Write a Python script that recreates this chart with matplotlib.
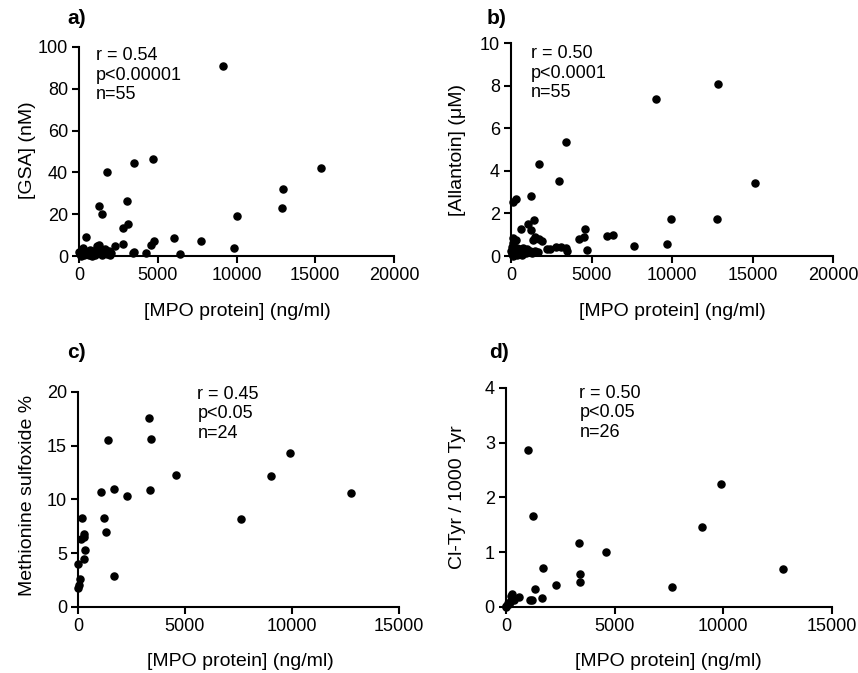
import matplotlib
matplotlib.use("Agg")
import matplotlib.pyplot as plt

plt.rcParams['font.family'] = ['Liberation Sans', 'DejaVu Sans']

# panel a: GSA vs MPO protein
gsa_x = [9150, 4700, 3490, 1800, 15360, 12970, 12900, 10060, 9840, 3040,
         1280, 1480, 3100, 2780, 450, 6030, 7770, 4790, 4600, 2780,
         2310, 1130, 1280, 3490, 3450, 4280, 6440, 1930, 2050, 1560,
         1350, 64, 171, 278, 385, 492, 600, 813, 706, 920,
         1027, 1134, 1350, 1455, 1670, 1776, 1990, 107, 235, 321,
         450, 663, 1240, 21, 877]
gsa_y = [91, 46.5, 44.7, 40.4, 42, 32, 23, 19.2, 4, 26.4,
         23.7, 20, 15.4, 13.6, 9.1, 8.5, 7.2, 7.2, 5.3, 5.6,
         5, 5, 5.3, 2, 1.3, 1.6, 1.1, 2.5, 1.6, 2,
         3.2, 1.0, 2.9, 3.7, 2.6, 1.8, 1.0, 0, 2.9, 1.3,
         0.5, 2.6, 1.3, 0.5, 3.2, 1.0, 0.5, 0, 1.6, 0.5,
         1.0, 0.5, 3.7, 2.1, 2.6]

# panel b: allantoin vs MPO protein
all_x = [12830, 9030, 3430, 1756, 2975, 15160, 1260, 310, 145, 9920,
         12770, 1446, 1074, 1240, 640, 4607, 4525, 4194, 5970, 6343,
         7644, 9710, 4731, 1735, 1900, 1384, 1508, 2210, 2417, 2768,
         3078, 3409, 3450, 1508, 145, 310, 40, 100, 186, 248,
         351, 455, 558, 723, 868, 1012, 1178, 1281, 62, 145,
         351, 661, 930, 0, 1694]
all_y = [8.06, 7.38, 5.33, 4.34, 3.53, 3.42, 2.81, 2.69, 2.55, 1.73,
         1.73, 1.69, 1.5, 1.22, 1.25, 1.28, 0.9, 0.81, 0.95, 0.98,
         0.48, 0.56, 0.28, 0.81, 0.69, 0.75, 0.87, 0.34, 0.31, 0.44,
         0.44, 0.36, 0.22, 0.22, 0.86, 0.75, 0.44, 0.6, 0.28, 0.12,
         0.36, 0.2, 0.31, 0.37, 0.28, 0.34, 0.25, 0.16, 0.09, 0,
         0.05, 0.05, 0.12, 0.25, 0.2]

# panel c: methionine sulfoxide vs MPO protein
met_x = [3330, 3400, 1400, 9890, 4580, 9000, 12760, 1075, 1700, 2275,
         3380, 7620, 205, 1200, 1310, 265, 265, 140, 310, 265,
         0, 1680, 80, 30, 0]
met_y = [17.58, 15.66, 15.57, 14.36, 12.28, 12.16, 10.57, 10.67, 10.98, 10.29,
         10.85, 8.16, 8.28, 8.28, 6.98, 6.82, 6.5, 6.3, 5.27, 4.5,
         3.97, 2.88, 2.6, 2.0, 1.8]

# panel d: Cl-Tyr vs MPO protein
cl_x = [1000, 1227, 9890, 9030, 3360, 4600, 12750, 1710, 3390, 3390,
        7640, 2290, 1330, 1680, 1100, 1180, 620, 290, 300, 200,
        100, 0, 0, 230, 350, 150]
cl_y = [2.87, 1.67, 2.25, 1.46, 1.17, 1.01, 0.69, 0.71, 0.61, 0.45,
        0.36, 0.40, 0.32, 0.16, 0.13, 0.13, 0.18, 0.23, 0.15, 0.10,
        0.07, 0.02, 0, 0.2, 0.13, 0.05]

fig = plt.figure(figsize=(8.58, 6.73), dpi=100)

panels = [
    # rect, x, y, xlim, xticks, ylim, yticks, stats, stats pos
    ([0.0921, 0.6196, 0.3671, 0.3106], gsa_x, gsa_y, 20000, [0, 5000, 10000, 15000, 20000],
     100, [0, 20, 40, 60, 80, 100], "r = 0.54\np<0.00001\nn=55", (0.054, 1.0)),
    ([0.5956, 0.6196, 0.3753, 0.3165], all_x, all_y, 20000, [0, 5000, 10000, 15000, 20000],
     10, [0, 2, 4, 6, 8, 10], "r = 0.50\np<0.0001\nn=55", (0.061, 0.99)),
    ([0.0909, 0.0981, 0.3741, 0.3195], met_x, met_y, 15000, [0, 5000, 10000, 15000],
     20, [0, 5, 10, 15, 20], "r = 0.45\np<0.05\nn=24", (0.372, 1.03)),
    ([0.5897, 0.0981, 0.3800, 0.3254], cl_x, cl_y, 15000, [0, 5000, 10000, 15000],
     4, [0, 1, 2, 3, 4], "r = 0.50\np<0.05\nn=26", (0.225, 1.015)),
]

for rect, xs, ys, xmax, xt, ymax, yt, stats, pos in panels:
    ax = fig.add_axes(rect)
    ax.scatter(xs, ys, s=26, color='black', zorder=3, clip_on=False)
    ax.set_xlim(0, xmax)
    ax.set_ylim(0, ymax)
    ax.set_xticks(xt)
    ax.set_yticks(yt)
    ax.spines['top'].set_visible(False)
    ax.spines['right'].set_visible(False)
    for sp in ['left', 'bottom']:
        ax.spines[sp].set_linewidth(1.5)
    ax.tick_params(direction='out', length=5, width=1.5, labelsize=13, pad=3)
    ax.text(pos[0], pos[1], stats, transform=ax.transAxes, ha='left', va='top',
            fontsize=13, linespacing=1.2)

# axis labels and panel letters
xlab = "[MPO protein] (ng/ml)"
fig.text(237 / 858, 1 - 312 / 673, xlab, ha='center', va='center', fontsize=14)
fig.text(672 / 858, 1 - 312 / 673, xlab, ha='center', va='center', fontsize=14)
fig.text(240 / 858, 1 - 661 / 673, xlab, ha='center', va='center', fontsize=14)
fig.text(668 / 858, 1 - 661 / 673, xlab, ha='center', va='center', fontsize=14)

fig.text(27 / 858, 1 - 150 / 673, "[GSA] (nM)", rotation=90, ha='center', va='center', fontsize=14)
fig.text(458 / 858, 1 - 150 / 673, "[Allantoin] (μM)", rotation=90, ha='center', va='center', fontsize=14)
fig.text(27 / 858, 1 - 495 / 673, "Methionine sulfoxide %", rotation=90, ha='center', va='center', fontsize=14)
fig.text(457 / 858, 1 - 497 / 673, "Cl-Tyr / 1000 Tyr", rotation=90, ha='center', va='center', fontsize=14)

for lab, x, y in [("a)", 67, 19), ("b)", 487, 19), ("c)", 67, 352), ("d)", 489, 352)]:
    fig.text(x / 858, 1 - y / 673, lab, ha='left', va='center', fontsize=15, fontweight='bold')

fig.savefig("out.png", dpi=100)
